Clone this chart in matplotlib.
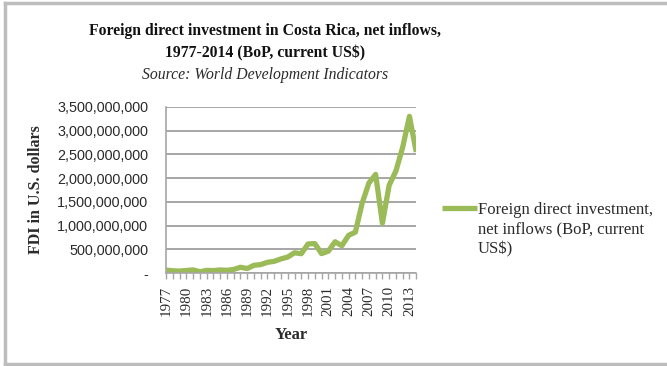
import matplotlib
matplotlib.use('Agg')
import matplotlib.pyplot as plt
from matplotlib.lines import Line2D
from matplotlib.ticker import FuncFormatter

# --- DATA (net FDI inflows, current US$) ---
years = list(range(1977, 2015))
fdi = [
    62e6, 47e6, 42e6, 53e6, 66e6, 27e6, 55e6, 52e6, 65e6, 57e6,
    76e6, 121e6, 95e6, 163e6, 178e6, 226e6, 247e6, 298e6, 337e6, 427e6,
    407e6, 613e6, 620e6, 409e6, 460e6, 659e6, 575e6, 794e6, 861e6, 1469e6,
    1896e6, 2078e6, 1050e6, 1850e6, 2150e6, 2650e6, 3300e6, 2550e6,
]
y_ticks = [0, 500e6, 1000e6, 1500e6, 2000e6, 2500e6, 3000e6, 3500e6]
label_years = years[::3]
series_name = 'Foreign direct investment,\nnet inflows (BoP, current\nUS$)'

SERIF = 'Liberation Serif'
SANS = 'Liberation Sans'
GREEN = '#9bbb59'
GRID = '#a6a6a6'
TEXT = '#2b2b2b'


def money(v, pos):
    if v == 0:
        return '-'
    return f'{v:,.0f}'


fig = plt.figure(figsize=(6.67, 3.66), dpi=100)
ax = fig.add_axes([0.249, 0.254, 0.375, 0.454])

ax.plot(years, fdi, color=GREEN, linewidth=3.8, solid_capstyle='butt')

ax.set_xlim(1977, 2014)
ax.set_ylim(0, 3.5e9)
ax.set_yticks(y_ticks)
ax.yaxis.set_major_formatter(FuncFormatter(money))
ax.set_xticks(years)
ax.set_xticklabels([str(y) if y in label_years else '' for y in years],
                   rotation=90, family=SERIF, fontsize=10.8, color=TEXT)
for lbl in ax.get_yticklabels():
    lbl.set_family(SANS)
    lbl.set_fontsize(10.4)
    lbl.set_color(TEXT)

ax.grid(axis='y', color=GRID, linewidth=1.4)
ax.set_axisbelow(True)
ax.tick_params(axis='y', length=0, pad=13)
ax.tick_params(axis='x', length=4, color=GRID, width=1, pad=5)
for side in ['top', 'right']:
    ax.spines[side].set_visible(False)
for side in ['left', 'bottom']:
    ax.spines[side].set_color(GRID)
    ax.spines[side].set_linewidth(1.2)

ax.set_xlabel('Year', family=SERIF, fontweight='bold', fontsize=12, labelpad=8,
              color=TEXT)
ax.set_ylabel('FDI in U.S. dollars', family=SERIF, fontweight='bold',
              fontsize=11.5, labelpad=9, color=TEXT)

fig.text(0.398, 0.915, 'Foreign direct investment in Costa Rica, net inflows,',
         ha='center', va='center', family=SERIF, fontweight='bold', fontsize=11.3,
         color='#111111')
fig.text(0.398, 0.855, '1977-2014 (BoP, current US$)',
         ha='center', va='center', family=SERIF, fontweight='bold', fontsize=11.3,
         color='#111111')
fig.text(0.398, 0.795, 'Source: World Development Indicators',
         ha='center', va='center', family=SERIF, style='italic', fontsize=11.3,
         color=TEXT)

# legend: swatch lined up with the first text line
fig.add_artist(Line2D([0.663, 0.715], [0.432, 0.432], transform=fig.transFigure,
                      color=GREEN, linewidth=3.8, solid_capstyle='butt'))
fig.text(0.716, 0.447, series_name, ha='left', va='top', family=SERIF,
         fontsize=12, color=TEXT, linespacing=1.27)

# outer chart border (open on the right side)
bx0, by0, by1 = 0.008, 0.006, 0.992
for xs, ys in [([bx0, 1.0], [by1, by1]), ([bx0, 1.0], [by0, by0]),
               ([bx0, bx0], [by0, by1])]:
    fig.add_artist(Line2D(xs, ys, transform=fig.transFigure,
                          color='#bdbdbd', linewidth=2.5))

fig.savefig('out.png', dpi=100)
